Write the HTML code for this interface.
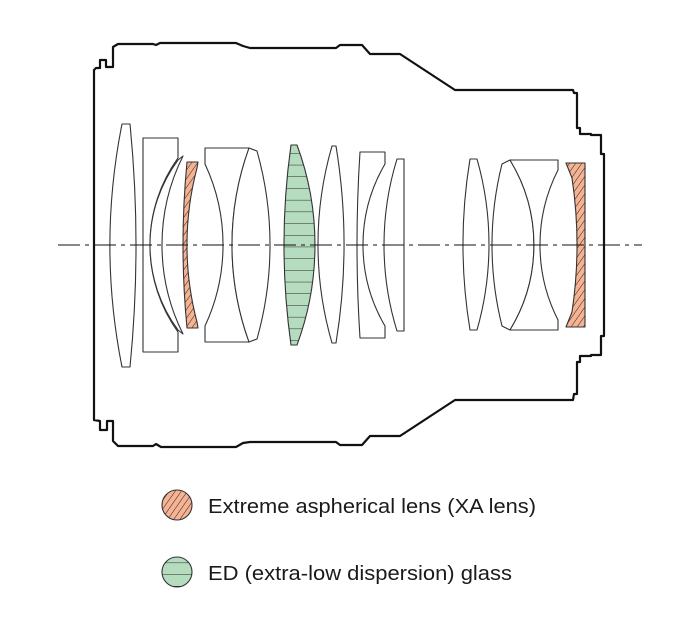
<!DOCTYPE html>
<html><head><meta charset="utf-8"><style>
html,body{margin:0;padding:0;background:#fff;}
svg{display:block}
text{font-family:"Liberation Sans",sans-serif;font-size:20px;fill:#1a1a1a}
</style></head><body>
<svg width="680" height="621" viewBox="0 0 680 621" xmlns="http://www.w3.org/2000/svg">
<defs>
<pattern id="hatch" width="5" height="5" patternUnits="userSpaceOnUse" patternTransform="rotate(35)">
<rect width="5" height="5" fill="#f5b394"/>
<line x1="0" y1="0" x2="0" y2="5" stroke="#222" stroke-width="1"/>
</pattern>
<pattern id="hl" width="10" height="11.7" patternUnits="userSpaceOnUse" y="1">
<rect width="10" height="11.7" fill="#b6dcc0"/>
<line x1="0" y1="0" x2="10" y2="0" stroke="#222" stroke-width="1"/>
</pattern>
</defs>
<path fill="none" stroke="#111" stroke-width="2.2" stroke-linejoin="round" d="M94,420 V70 L96,68 H100 V60 H106 V67 H113 V47 L118,44 H153 L156,45 L160,43 H236 L243,46 L250,48 H336 L340,45 H362 L370,54 H400 L455,90 H573 L574,93 H577 V128 H580 V134 H591 V135 H601 V154 H604 V336 H601 V355 H591 V356 H580 V362 H577 V394 H574 L573,400 H455 L400,436 H370 L362,445 H340 L336,442 H250 L243,443 L236,447 H161 L156,444 L153,446 H118 L113,441 V421 H107 V430 H100 V421 Z"/>
<g fill="#fff" stroke="#333" stroke-width="1.1" stroke-linejoin="round">
<path d="M122,124 H130 A1233 1233 0 0 1 130,367 H122 A621 621 0 0 1 122,124 Z"/>
<path d="M143,138 H178 V158 A149 149 0 0 0 178,332 V352 H143 Z"/>
<path d="M178,160 L183,156 A199 199 0 0 0 183,334 L178,330 A143 143 0 0 1 178,160 Z"/>
<path fill="url(#hatch)" d="M187,162 H198 L197,168 A301 301 0 0 0 197,322 L198,328 H187 A863 863 0 0 1 187,162 Z"/>
<path d="M205,148 H249 A285 285 0 0 0 249,342 H205 V326 A191 191 0 0 0 205,164 Z"/>
<path d="M249,148 L257,151 A346 346 0 0 1 257,339 L249,342 A285 285 0 0 1 249,148 Z"/>
<path fill="url(#hl)" d="M291,145 H297 A287 287 0 0 1 297,345 H291 A718 718 0 0 1 291,145 Z"/>
<path d="M332,146 H336 A610 610 0 0 1 336,343 H332 A353 353 0 0 1 332,146 Z"/>
<path d="M360,152 H385 V164 A160 160 0 0 0 385,326 V338 H360 A1443 1443 0 0 1 360,152 Z"/>
<path d="M397,159 H404 L404,331 H397 A291 291 0 0 1 397,159 Z"/>
<path d="M470,159 H477 A311 311 0 0 1 477,330 H470 A526 526 0 0 1 470,159 Z"/>
<path d="M502,164 L510,160 A163 163 0 0 1 510,330 L502,326 A333 333 0 0 1 502,164 Z"/>
<path d="M510,160 H558 V170 A165 165 0 0 0 558,320 V330 H510 A163 163 0 0 0 510,160 Z"/>
<path fill="url(#hatch)" d="M566,163 H585 V327 H566 L572,312 A451 451 0 0 0 572,178 Z"/>
</g>
<line x1="58" y1="245" x2="642" y2="245" stroke="#111" stroke-width="1" stroke-dasharray="22,5,4,5"/>
<circle cx="177" cy="505" r="15" fill="url(#hatch)" stroke="#333" stroke-width="1.1"/>
<circle cx="177" cy="572" r="15" fill="url(#hl)" stroke="#333" stroke-width="1.1"/>
<text x="208" y="513" textLength="328" lengthAdjust="spacingAndGlyphs">Extreme aspherical lens (XA lens)</text>
<text x="208" y="580" textLength="304" lengthAdjust="spacingAndGlyphs">ED (extra-low dispersion) glass</text>
</svg>
</body></html>
